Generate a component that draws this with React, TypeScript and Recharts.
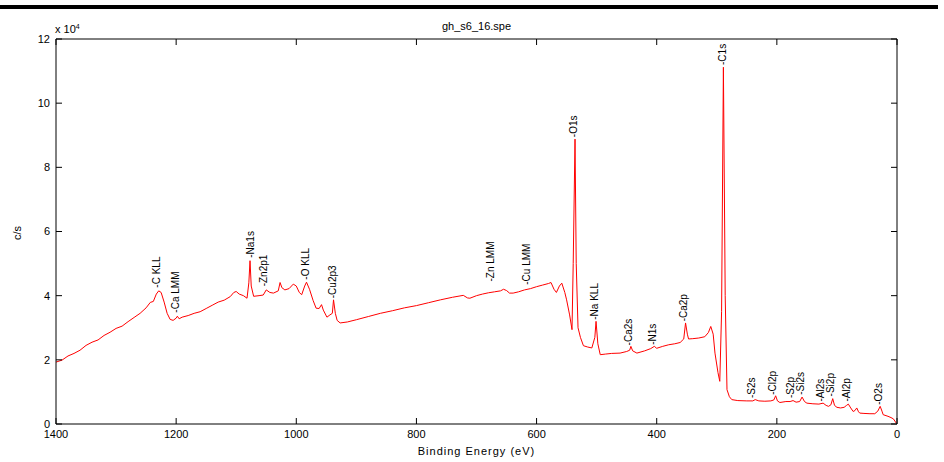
import { LineChart, Line, XAxis, YAxis, ReferenceDot } from 'recharts';

// binding energy (eV) and counts (c/s)
const energy = [
  1400, 1390, 1380, 1370, 1360, 1350, 1340, 1330, 1320, 1310, 1300, 1290, 1280, 1270, 1260, 1250,
  1243, 1238, 1233, 1229, 1225, 1220, 1215, 1210, 1205, 1200, 1198, 1195, 1190, 1180, 1170, 1160,
  1150, 1140, 1130, 1120, 1110, 1104, 1100, 1095, 1088, 1082, 1079, 1077, 1075, 1071, 1062, 1055,
  1050, 1044, 1038, 1030, 1027, 1024, 1019, 1012, 1005, 1000, 995, 991, 986, 983, 978, 972,
  967, 962, 958, 955, 949, 944, 940, 938, 935, 932, 927, 915, 900, 880, 860, 840,
  820, 800, 780, 760, 740, 722, 715, 711, 700, 690, 680, 670, 660, 655, 650, 645,
  639, 630, 620, 610, 600, 590, 580, 576, 571, 567, 562, 558, 553, 550, 545, 541,
  539, 536, 534, 531, 527, 522, 515, 508, 503, 501, 498, 494, 485, 475, 461, 450,
  445, 443, 440, 433, 420, 410, 404, 400, 390, 380, 370, 361, 355, 352, 349, 347,
  340, 330, 320, 314, 310, 306, 303, 298, 295, 292, 289, 286, 283, 279, 275, 265,
  250, 240, 236, 230, 220, 210, 205, 202, 199, 195, 185, 178, 173, 168, 162, 158,
  154, 150, 140, 130, 123, 118, 114, 110, 107, 104, 100, 94, 88, 84, 81, 77,
  73, 70, 67, 64, 62, 55, 45, 37, 32, 28, 25, 23, 15, 10, 6, 1,
];

const counts = [
  19300, 19900, 21200, 22000, 23000, 24500, 25500, 26200, 27600, 28600, 29800, 30500, 31900, 33200, 34500, 36200,
  37900, 38200, 40500, 41500, 41000, 38000, 34500, 32600, 32300, 33000, 33600, 32800, 33300, 33800, 34500, 35000,
  36000, 37000, 38000, 38600, 39700, 41000, 41300, 40500, 40000, 39200, 44000, 50900, 43000, 39800, 40000, 40200,
  41800, 41000, 40800, 41500, 44100, 42500, 41800, 42200, 43600, 43000, 41000, 40300, 43000, 44200, 42000, 38500,
  36100, 36000, 37200, 35500, 33300, 34000, 34500, 38700, 34500, 32300, 31500, 31800, 32500, 33500, 34500, 35300,
  36200, 36900, 37800, 38700, 39500, 40100, 39300, 39200, 40000, 40500, 40900, 41200, 41500, 42000, 41600, 40800,
  40800, 41200, 41800, 42200, 42800, 43300, 43800, 44100, 42000, 41000, 43000, 43900, 41000, 38700, 34000, 29400,
  50000, 88800, 50000, 30000, 27000, 24400, 24000, 23700, 27000, 32000, 25000, 21600, 21800, 22000, 22100, 22600,
  23000, 24200, 22800, 22100, 22800, 23500, 24200, 23600, 24200, 24700, 25000, 25400, 26500, 31500, 28000, 26500,
  26600, 26800, 27200, 28500, 30400, 28000, 22100, 16000, 13300, 35000, 111200, 40000, 10700, 8500, 7600, 7300,
  7200, 7200, 7600, 7200, 7100, 7200, 7500, 8800, 7200, 6700, 7000, 7000, 7300, 6800, 7000, 8400,
  7000, 6500, 6300, 6200, 6500, 5800, 5500, 6000, 7900, 5800, 5200, 5000, 5200, 5800, 6200, 5000,
  3900, 4200, 5000, 3800, 3400, 3300, 3200, 3200, 4000, 5500, 4000, 2900, 2400, 2000, 1600, 200,
];

const spectrum = energy.map((be, i) => ({ be, cps: counts[i] }));

// peak annotations: name, energy, height of the tag's foot
const peakNames = [
  'C KLL', 'Ca LMM', 'Na1s', 'Zn2p1', 'O KLL', 'Cu2p3', 'Zn LMM', 'Cu LMM', 'O1s', 'Na KLL', 'Ca2s',
  'N1s', 'Ca2p', 'C1s', 'S2s', 'Cl2p', 'S2p', 'Si2s', 'Al2s', 'Si2p', 'Al2p', 'O2s',
];
const peakEnergy = [1232, 1201, 1077, 1054, 984, 939, 677, 616, 539, 504, 447, 407, 355, 291, 242, 208, 178, 161, 127, 110, 84, 31];
const peakFoot = [
  42500, 34700, 51800, 42900, 45000, 39200, 44400, 43400, 89400, 32500, 24500,
  24700, 32000, 111900, 8100, 9100, 8100, 9100, 7000, 8600, 7000, 6000,
];

const xTicks = [0, 200, 400, 600, 800, 1000, 1200, 1400];
const yTicks = [0, 20000, 40000, 60000, 80000, 100000, 120000];

const FONT = '"Liberation Sans", Arial, sans-serif';
const TICK = 6;

type TickProps = { x?: number; y?: number; payload?: { value: number } };

// matlab-style ticks: short marks pointing into the box
const BottomTick = ({ x = 0, y = 0, payload }: TickProps) => (
  <g>
    <line x1={x} x2={x} y1={y - 6} y2={y - 6 - TICK} stroke="#000" strokeWidth={1} />
    <text x={x} y={y} dy="0.71em" textAnchor="middle" fontSize={11} fontFamily={FONT} fill="#000">
      {payload?.value}
    </text>
  </g>
);

const LeftTick = ({ x = 0, y = 0, payload }: TickProps) => (
  <g>
    <line x1={x + 6} x2={x + 6 + TICK} y1={y} y2={y} stroke="#000" strokeWidth={1} />
    <text x={x} y={y} dy="0.35em" textAnchor="end" fontSize={11} fontFamily={FONT} fill="#000">
      {(payload?.value ?? 0) / 10000}
    </text>
  </g>
);

const TopTick = ({ x = 0, y = 0 }: TickProps) => (
  <line x1={x} x2={x} y1={y} y2={y + TICK} stroke="#000" strokeWidth={1} />
);

const RightTick = ({ x = 0, y = 0 }: TickProps) => (
  <line x1={x - TICK} x2={x} y1={y} y2={y} stroke="#000" strokeWidth={1} />
);

const PeakTag = ({ cx, cy, name }: { cx?: number; cy?: number; name: string }) => {
  if (cx == null || cy == null) return null;
  return (
    <text
      transform={`translate(${cx},${cy}) rotate(-90)`}
      x={0}
      y={0}
      dy="0.35em"
      fontSize={10}
      fontFamily={FONT}
      fill="#000"
      textAnchor="start"
    >
      -{name}
    </text>
  );
};

export default function App() {
  return (
    <div
      style={{
        position: 'absolute',
        left: 0,
        top: 0,
        width: 944,
        height: 462,
        background: '#fff',
        fontFamily: FONT,
        overflow: 'hidden',
      }}
    >
      <div style={{ position: 'absolute', left: 0, top: 5, width: 938, height: 4, background: '#000' }} />
      <div
        style={{
          position: 'absolute',
          left: 0,
          top: 20,
          width: 953,
          textAlign: 'center',
          fontSize: 11,
          color: '#000',
        }}
      >
        gh_s6_16.spe
      </div>
      <div style={{ position: 'absolute', left: 55, top: 23, fontSize: 11, color: '#000' }}>
        x 10<sup style={{ fontSize: 7, verticalAlign: 4 }}>4</sup>
      </div>
      <div
        style={{
          position: 'absolute',
          left: 17,
          top: 233,
          fontSize: 11,
          color: '#000',
          transform: 'translate(-50%, -50%) rotate(-90deg)',
        }}
      >
        c/s
      </div>
      <div
        style={{
          position: 'absolute',
          left: 0,
          top: 445,
          width: 953,
          textAlign: 'center',
          fontSize: 11,
          letterSpacing: 1,
          color: '#000',
        }}
      >
        Binding Energy (eV)
      </div>
      <LineChart
        width={944}
        height={462}
        data={spectrum}
        margin={{ top: 38, right: 46, bottom: 0, left: 0 }}
        style={{ position: 'absolute', left: 0, top: 0 }}
      >
        <XAxis
          dataKey="be"
          type="number"
          domain={[0, 1400]}
          reversed
          ticks={xTicks}
          interval={0}
          height={38}
          tickSize={0}
          tickMargin={6}
          tickLine={false}
          stroke="#000"
          tick={<BottomTick />}
          allowDataOverflow
        />
        <XAxis
          xAxisId="top"
          dataKey="be"
          orientation="top"
          type="number"
          domain={[0, 1400]}
          reversed
          ticks={xTicks}
          interval={0}
          height={1}
          tickSize={0}
          tickMargin={0}
          tickLine={false}
          tick={<TopTick />}
          stroke="#000"
          allowDataOverflow
        />
        <YAxis
          type="number"
          domain={[0, 120000]}
          ticks={yTicks}
          interval={0}
          width={56}
          tickSize={0}
          tickMargin={6}
          tickLine={false}
          stroke="#000"
          tick={<LeftTick />}
          allowDataOverflow
        />
        <YAxis
          yAxisId="right"
          orientation="right"
          type="number"
          domain={[0, 120000]}
          ticks={yTicks}
          interval={0}
          width={1}
          tickSize={0}
          tickMargin={0}
          tickLine={false}
          tick={<RightTick />}
          stroke="#000"
          allowDataOverflow
        />
        {/* invisible copy so the top and right frame axes get drawn */}
        <Line
          xAxisId="top"
          yAxisId="right"
          type="linear"
          dataKey="cps"
          stroke="none"
          dot={false}
          activeDot={false}
          isAnimationActive={false}
        />
        <Line
          type="linear"
          dataKey="cps"
          stroke="#ff0000"
          strokeWidth={1}
          dot={false}
          isAnimationActive={false}
        />
        {peakNames.map((name, i) => (
          <ReferenceDot
            key={name}
            x={peakEnergy[i]}
            y={peakFoot[i]}
            r={1}
            ifOverflow="visible"
            shape={(p: { cx?: number; cy?: number }) => <PeakTag cx={p.cx} cy={p.cy} name={name} />}
          />
        ))}
      </LineChart>
    </div>
  );
}
